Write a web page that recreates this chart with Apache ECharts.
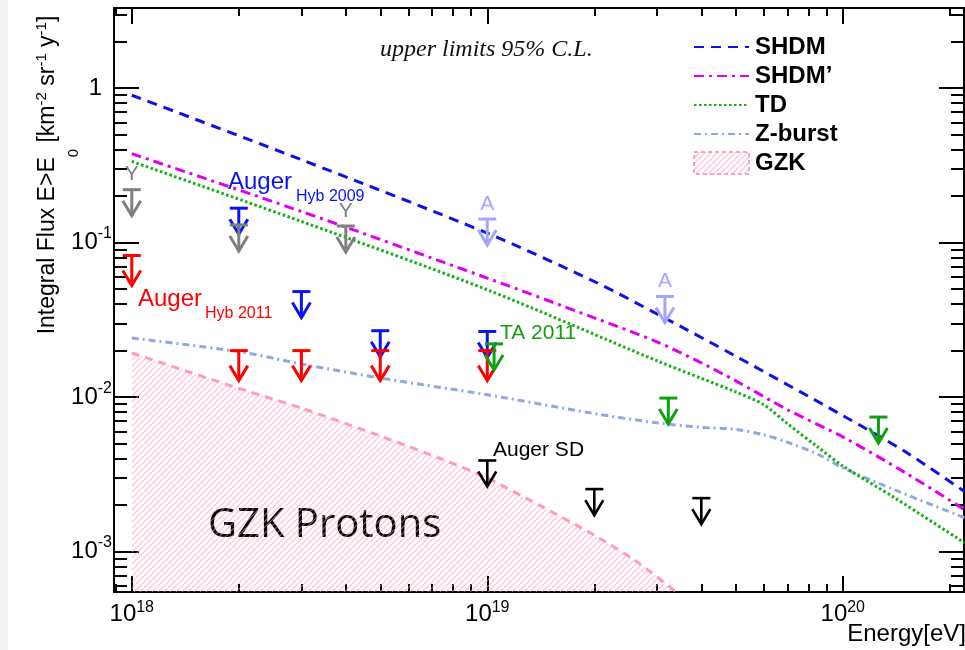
<!DOCTYPE html>
<html>
<head>
<meta charset="utf-8">
<script src="https://cdn.jsdelivr.net/npm/echarts@6/dist/echarts.min.js"></script>
<style>
  html, body { margin: 0; padding: 0; background: #fff; }
  #chart { width: 965px; height: 650px; }
</style>
</head>
<body>
<div id="chart"></div>
<script>
// ---- Model predictions: integral flux above E0 [km^-2 sr^-1 yr^-1] vs E0 [eV] ----
const shdmE    = [1e18, 3e18, 1e19, 2e19, 3e19, 5e19, 1e20, 1.5e20, 2.2e20];
const shdmFlux = [0.898, 0.344, 0.115, 0.056, 0.0346, 0.0184, 0.0076, 0.00443, 0.00245];

const shdmPE    = [1e18, 3e18, 1e19, 2e19, 3e19, 4e19, 5e19, 7e19, 1e20, 1.5e20, 2.2e20];
const shdmPFlux = [0.376, 0.159, 0.0589, 0.0326, 0.0228, 0.01667, 0.01274, 0.00828, 0.00553, 0.00324, 0.00187];

const tdE    = [1e18, 3e18, 1e19, 3e19, 5e19, 6e19, 7e19, 8.5e19, 1e20, 1.4e20, 2.2e20];
const tdFlux = [0.335, 0.137, 0.0495, 0.0172, 0.0108, 0.00891, 0.00671, 0.00476, 0.00359, 0.00223, 0.00114];

const zbE    = [1e18, 2e18, 3e18, 5e18, 1e19, 2e19, 3e19, 4e19, 5e19, 6e19, 7e19, 8.5e19, 1e20, 1.4e20, 2.2e20];
const zbFlux = [0.0241, 0.0197, 0.0164, 0.0133, 0.01035, 0.00783, 0.00682, 0.00638, 0.00619, 0.00570, 0.00510, 0.00427, 0.00349, 0.00251, 0.00166];

const gzkE    = [1e18, 2e18, 3e18, 5e18, 7.4e18, 1e19, 1.4e19, 2e19, 2.6e19, 3.4e19];
const gzkFlux = [0.0193, 0.0114, 0.0085, 0.0056, 0.0040, 0.0030, 0.0020, 0.00128, 0.00088, 0.00055];

// ---- Measured upper limits (95% C.L.) ----
const augerHyb09E   = [2e18, 3e18, 5e18, 1e19];
const augerHyb09Lim = [0.167, 0.0482, 0.0269, 0.0266];

const augerHyb11E   = [1e18, 2e18, 3e18, 5e18, 1e19];
const augerHyb11Lim = [0.0825, 0.0200, 0.0200, 0.0200, 0.0200];

const yakutskE    = [1e18, 2e18, 4e18];
const yakutskLim  = [0.22, 0.130, 0.128];
const yakutskTags = ['Y', '', 'Y'];

const ta11E   = [1.045e19, 3.23e19, 1.26e20];
const ta11Lim = [0.0221, 0.00986, 0.00743];

const agasaE    = [1e19, 3.16e19];
const agasaLim  = [0.142, 0.0448];
const agasaTags = ['A', 'A'];

const augerSdE   = [1e19, 2e19, 4e19];
const augerSdLim = [0.00389, 0.00254, 0.00222];

// ---- Axis tick values (log10 space) ----
const xMajor = [18, 19, 20];
const yMajor = [-3, -2, -1, 0];

const eMinLog = 17.95, eMaxLog = 20.341;
const fMinLog = -3.261, fMaxLog = 0.518;

function minorLogs(lo, hi) {
  const out = [];
  for (let n = Math.floor(lo) - 1; n <= Math.ceil(hi); n++) {
    for (let k = 2; k <= 9; k++) {
      const v = n + Math.log10(k);
      if (v > lo && v < hi) out.push(v);
    }
  }
  return out;
}
const xMinor = minorLogs(eMinLog, eMaxLog);
const yMinor = minorLogs(fMinLog, fMaxLog);

const pts = (E, F) => E.map((e, i) => [Math.log10(e), Math.log10(F[i])]);

const SANS = '"Liberation Sans", Arial, Helvetica, sans-serif';

// diagonal hatch used for the GZK band
function hatchPattern() {
  const c = document.createElement('canvas');
  c.width = 6; c.height = 6;
  const g = c.getContext('2d');
  g.strokeStyle = 'rgba(255,140,190,0.6)';
  g.lineWidth = 1.1;
  g.beginPath();
  g.moveTo(0, 6); g.lineTo(6, 0);
  g.moveTo(-1, 1); g.lineTo(1, -1);
  g.moveTo(5, 7); g.lineTo(7, 5);
  g.stroke();
  return c;
}
const hatch = { image: hatchPattern(), repeat: 'repeat' };

// upper-limit arrows: bar at the limit, stem and head pointing down
function limitSeries(name, E, L, color, opt) {
  const tags = opt.tags || [];
  return {
    name, type: 'custom', coordinateSystem: 'cartesian2d',
    xAxisIndex: 0, yAxisIndex: 0, z: opt.z || 6,
    data: pts(E, L),
    renderItem(params, api) {
      const p = api.coord([api.value(0), api.value(1)]);
      const x = p[0], y = p[1];
      const stem = opt.stem || 26, hw = 9, hh = 15;
      const st = { stroke: color, lineWidth: opt.lw || 3, fill: null };
      const children = [
        { type: 'line', shape: { x1: x - hw, y1: y, x2: x + hw, y2: y }, style: st },
        { type: 'line', shape: { x1: x, y1: y, x2: x, y2: y + stem }, style: st },
        { type: 'polyline', shape: { points: [[x - hw, y + stem - hh], [x, y + stem], [x + hw, y + stem - hh]] }, style: st }
      ];
      const tag = tags[params.dataIndex];
      if (tag) {
        children.push({
          type: 'text', x: x, y: y - 15,
          style: { text: tag, fill: color, font: '21px ' + SANS, align: 'center', verticalAlign: 'middle' }
        });
      }
      return { type: 'group', children };
    }
  };
}

const expRich = {
  b: { fontFamily: SANS, fontSize: 24, lineHeight: 34, verticalAlign: 'middle', color: '#000' },
  s: { fontFamily: SANS, fontSize: 16, lineHeight: 16, verticalAlign: 'top', color: '#000' },
  p: { width: 10 }
};
const xRich = {
  b: { fontFamily: SANS, fontSize: 24, lineHeight: 28, verticalAlign: 'middle', color: '#000' },
  s: { fontFamily: SANS, fontSize: 16, lineHeight: 16, verticalAlign: 'top', color: '#000' }
};

const frame = { color: '#000', width: 2 };

function xAxisDef(position, ticks, len, showLine, labels) {
  return {
    type: 'value', position, min: eMinLog, max: eMaxLog,
    axisLine: { show: showLine, onZero: false, lineStyle: frame },
    axisTick: { show: true, inside: true, length: len, customValues: ticks, lineStyle: frame },
    axisLabel: labels ? {
      show: true, customValues: xMajor, margin: 8, rich: xRich,
      formatter: v => '{b|10}{s|' + Math.round(v) + '}'
    } : { show: false },
    splitLine: { show: false }
  };
}
function yAxisDef(position, ticks, len, showLine, labels) {
  return {
    type: 'value', position, min: fMinLog, max: fMaxLog,
    axisLine: { show: showLine, onZero: false, lineStyle: frame },
    axisTick: { show: true, inside: true, length: len, customValues: ticks, lineStyle: frame },
    axisLabel: labels ? {
      show: true, customValues: yMajor, margin: 2, rich: expRich,
      formatter: v => (Math.round(v) === 0 ? '{b|1}{p| }' : '{b|10}{s|' + Math.round(v) + '}')
    } : { show: false },
    splitLine: { show: false }
  };
}

const chart = echarts.init(document.getElementById('chart'), null, { renderer: 'canvas' });

const yTitle = '{t|Integral Flux E>E}{sub|0}{t| [km}{sup|-2}{t| sr}{sup|-1}{t| y}{sup|-1}{t|]}';

chart.setOption({
  animation: false,
  backgroundColor: '#fff',
  grid: { left: 114, right: 1, top: 8, bottom: 58, containLabel: false },
  xAxis: [
    xAxisDef('bottom', xMajor, 16, true, true),
    xAxisDef('bottom', xMinor, 8, false, false),
    xAxisDef('top', xMajor, 16, true, false),
    xAxisDef('top', xMinor, 8, false, false)
  ],
  yAxis: [
    yAxisDef('left', yMajor, 25, true, true),
    yAxisDef('left', yMinor, 13, false, false),
    yAxisDef('right', yMajor, 25, true, false),
    yAxisDef('right', yMinor, 13, false, false)
  ],
  legend: {
    orient: 'vertical', left: 688, top: 30,
    itemWidth: 55, itemHeight: 22, itemGap: 5,
    selectedMode: false,
    itemStyle: { opacity: 0 },
    textStyle: { fontFamily: SANS, fontSize: 24, fontWeight: 'bold', color: '#000', lineHeight: 24, padding: [0, 0, 0, 1] },
    data: [
      'SHDM', 'SHDM’', 'TD', 'Z-burst',
      { name: 'GZK', icon: 'rect', itemStyle: { opacity: 1, color: hatch, borderColor: '#ff9ccc', borderWidth: 2, borderType: [4, 3] } }
    ]
  },
  series: [
    {
      name: 'GZK', type: 'line', data: pts(gzkE, gzkFlux), symbol: 'none', smooth: 0.2,
      lineStyle: { color: '#ff9ac8', width: 3, type: [8, 6] },
      areaStyle: { color: hatch, origin: 'start', opacity: 1 },
      z: 1
    },
    {
      name: 'Z-burst', type: 'line', data: pts(zbE, zbFlux), symbol: 'none', smooth: 0.3,
      lineStyle: { color: '#8ea9dc', width: 3, type: [7, 4, 2, 4] }, z: 2
    },
    {
      name: 'TD', type: 'line', data: pts(tdE, tdFlux), symbol: 'none', smooth: 0.3,
      lineStyle: { color: '#12b012', width: 3, type: [2.5, 2.5] }, z: 2
    },
    {
      name: 'SHDM’', type: 'line', data: pts(shdmPE, shdmPFlux), symbol: 'none', smooth: 0.3,
      lineStyle: { color: '#e000f0', width: 3, type: [10, 5, 3, 5] }, z: 2
    },
    {
      name: 'SHDM', type: 'line', data: pts(shdmE, shdmFlux), symbol: 'none', smooth: 0.3,
      lineStyle: { color: '#0a14e8', width: 3, type: [10, 7] }, z: 2
    },
    limitSeries('Auger Hyb 2009', augerHyb09E, augerHyb09Lim, '#0a14f0', { z: 6 }),
    limitSeries('Auger Hyb 2011', augerHyb11E, augerHyb11Lim, '#ff0000', { z: 7, stem: 30 }),
    limitSeries('Yakutsk', yakutskE, yakutskLim, '#7f7f7f', { z: 8, tags: yakutskTags }),
    limitSeries('TA 2011', ta11E, ta11Lim, '#10a010', { z: 9 }),
    limitSeries('AGASA', agasaE, agasaLim, '#a3a6ff', { z: 9, tags: agasaTags }),
    limitSeries('Auger SD', augerSdE, augerSdLim, '#000000', { z: 9, lw: 2.6 })
  ],
  graphic: [
    { type: 'rect', silent: true, z: -10, shape: { x: 0, y: 0, width: 8, height: 650 }, style: { fill: '#f2f2f2' } },
    {
      type: 'text', x: 48, y: 175, rotation: Math.PI / 2,
      style: {
        text: yTitle, align: 'center', verticalAlign: 'middle',
        rich: {
          t:   { fontFamily: SANS, fontSize: 23, lineHeight: 67, verticalAlign: 'middle', fill: '#000' },
          sub: { fontFamily: SANS, fontSize: 15, lineHeight: 16, verticalAlign: 'bottom', fill: '#000' },
          sup: { fontFamily: SANS, fontSize: 15, verticalAlign: 'top', padding: [20, 0, 0, 0], fill: '#000' }
        }
      }
    },
    { type: 'text', x: 966, y: 634, style: { text: 'Energy[eV]', font: '24px ' + SANS, fill: '#000', align: 'right', verticalAlign: 'middle' } },
    { type: 'text', x: 380, y: 50, style: { text: 'upper limits 95% C.L.', font: 'italic 24px "Liberation Serif", "Times New Roman", serif', fill: '#111', verticalAlign: 'middle' } },
    { type: 'text', x: 228, y: 182, style: { text: 'Auger', font: '24px ' + SANS, fill: '#0a14f0', verticalAlign: 'middle' } },
    { type: 'text', x: 296, y: 197, style: { text: 'Hyb 2009', font: '16px ' + SANS, fill: '#0a14f0', verticalAlign: 'middle' } },
    { type: 'text', x: 138, y: 299, style: { text: 'Auger', font: '24px ' + SANS, fill: '#ff0000', verticalAlign: 'middle' } },
    { type: 'text', x: 205, y: 314, style: { text: 'Hyb 2011', font: '16px ' + SANS, fill: '#ff0000', verticalAlign: 'middle' } },
    { type: 'text', x: 500, y: 333, style: { text: 'TA 2011', font: '21px ' + SANS, fill: '#10a010', verticalAlign: 'middle' } },
    { type: 'text', x: 493, y: 450, style: { text: 'Auger SD', font: '21px ' + SANS, fill: '#000', verticalAlign: 'middle' } },
    { type: 'text', x: 208, y: 526, style: { text: 'GZK Protons', font: '40px "Open Sans", sans-serif', fill: '#000', verticalAlign: 'middle' } }
  ]
});
</script>
</body>
</html>
